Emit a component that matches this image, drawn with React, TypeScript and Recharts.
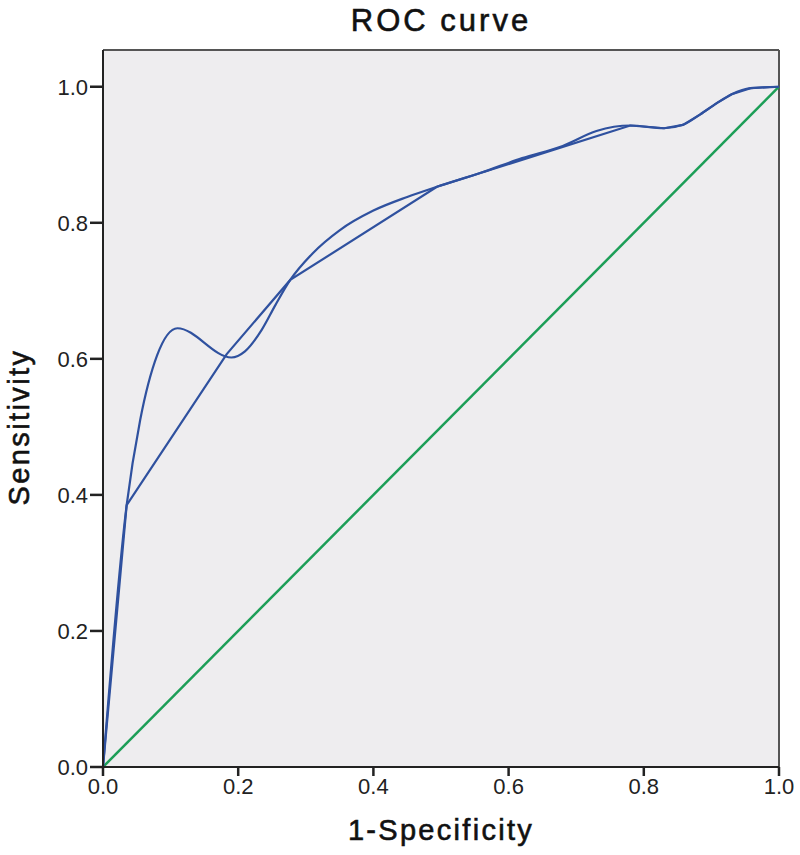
import { LineChart, Line, XAxis, YAxis, CartesianGrid, ReferenceLine } from 'recharts'

// ROC points (straight segments)
const rocFpr = [0, 0.035, 0.183, 0.277, 0.494, 0.78, 0.83, 0.858, 0.883, 0.908, 0.93, 0.958, 1]
const rocTpr = [0, 0.385, 0.607, 0.716, 0.853, 0.943, 0.939, 0.944, 0.959, 0.976, 0.989, 0.998, 1]

// smoothed curve
const smoothFpr = [0, 0.035, 0.055, 0.08, 0.11, 0.19, 0.21, 0.235, 0.255, 0.277, 0.31, 0.35, 0.4, 0.45, 0.494, 0.56, 0.62, 0.68, 0.73, 0.78, 0.83, 0.858, 0.883, 0.908, 0.93, 0.958, 1]
const smoothTpr = [0, 0.385, 0.51, 0.605, 0.645, 0.602, 0.611, 0.643, 0.679, 0.716, 0.755, 0.789, 0.818, 0.838, 0.853, 0.874, 0.895, 0.913, 0.935, 0.943, 0.939, 0.944, 0.959, 0.976, 0.989, 0.998, 1]

const refFpr = [0, 1]
const refTpr = [0, 1]

const xTicks = [0, 0.2, 0.4, 0.6, 0.8, 1.0]
const yTicks = [0, 0.2, 0.4, 0.6, 0.8, 1.0]
const yMax = 1.054

const toPoints = (xs: number[], ys: number[]) => xs.map((x, i) => ({ x, y: ys[i] }))

const font = '"Liberation Sans", Arial, sans-serif'
const blue = '#2f519f'

const titleText = { position: 'absolute' as const, lineHeight: 1, color: '#111', WebkitTextStroke: '0.6px #111', whiteSpace: 'nowrap' as const }

export default function App() {
  const tick = { fontSize: 22, fill: '#222', fontFamily: font }
  return (
    <div style={{ position: 'absolute', left: 0, top: 0, width: 800, height: 855, background: '#fff', fontFamily: font }}>
      <div style={{ ...titleText, left: 103, width: 676, top: 5, textAlign: 'center', fontSize: 31, letterSpacing: 3 }}>
        ROC curve
      </div>
      <div style={{ ...titleText, left: 103, width: 676, top: 816, textAlign: 'center', fontSize: 29, letterSpacing: 2.3 }}>
        1-Specificity
      </div>
      <div
        style={{
          ...titleText,
          left: 19,
          top: 427,
          transform: 'translate(-50%, -50%) rotate(-90deg)',
          fontSize: 29,
          letterSpacing: 2.4,
        }}
      >
        Sensitivity
      </div>
      <LineChart width={800} height={855} margin={{ top: 50, right: 21, left: 0, bottom: 0 }}>
        <CartesianGrid horizontal={false} vertical={false} fill="#eeedef" />
        <XAxis
          type="number"
          dataKey="x"
          domain={[0, 1]}
          ticks={xTicks}
          tickFormatter={(v: number) => v.toFixed(1)}
          height={88}
          tick={tick}
          tickSize={9}
          tickLine={{ stroke: '#222', strokeWidth: 2.5 }}
          axisLine={{ stroke: '#222', strokeWidth: 2 }}
        />
        <YAxis
          type="number"
          dataKey="y"
          domain={[0, yMax]}
          ticks={yTicks}
          tickFormatter={(v: number) => v.toFixed(1)}
          width={103}
          tick={tick}
          tickSize={13}
          tickLine={{ stroke: '#222', strokeWidth: 2.5 }}
          axisLine={{ stroke: '#222', strokeWidth: 2 }}
          allowDataOverflow
        />
        <ReferenceLine y={yMax} stroke="#555" strokeWidth={2} />
        <ReferenceLine x={1} stroke="#555" strokeWidth={2} />
        <Line data={toPoints(refFpr, refTpr)} dataKey="y" type="linear" stroke="#1c9e57" strokeWidth={2.5} dot={false} isAnimationActive={false} />
        <Line data={toPoints(rocFpr, rocTpr)} dataKey="y" type="linear" stroke={blue} strokeWidth={2.2} dot={false} isAnimationActive={false} />
        <Line data={toPoints(smoothFpr, smoothTpr)} dataKey="y" type="monotoneX" stroke={blue} strokeWidth={2.2} dot={false} isAnimationActive={false} />
      </LineChart>
    </div>
  )
}
